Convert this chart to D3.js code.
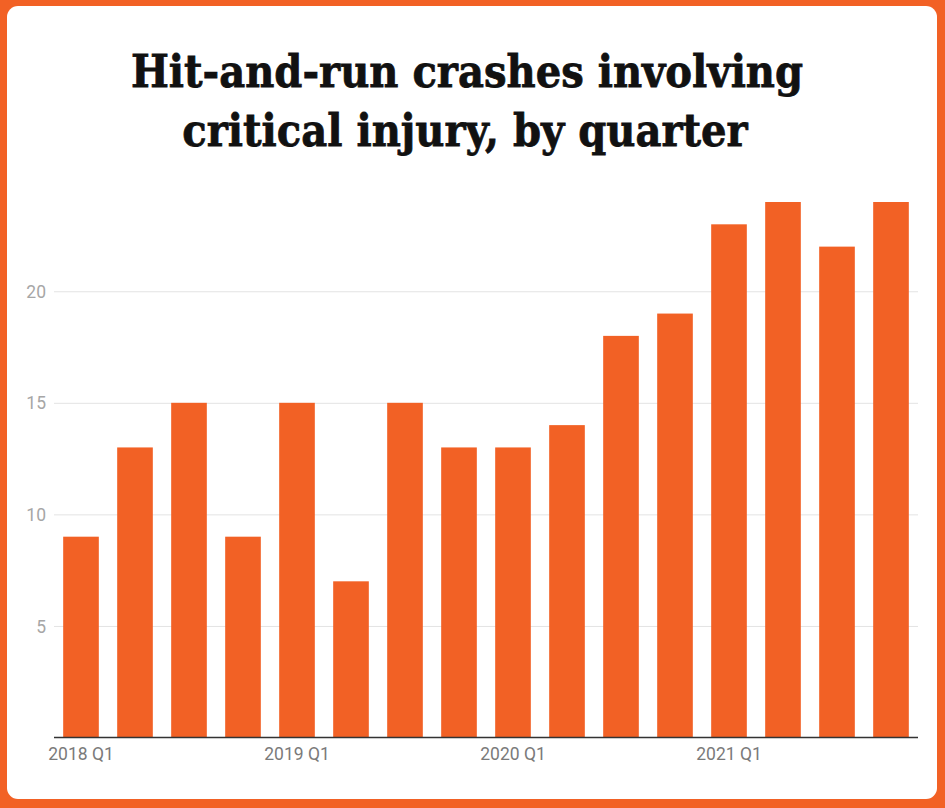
<!DOCTYPE html>
<html>
<head>
<meta charset="utf-8">
<script src="https://cdn.jsdelivr.net/npm/d3@7"></script>
<style>
  html, body { margin: 0; padding: 0; background: #f26125; }
  svg { display: block; }
</style>
</head>
<body>
<svg id="chart" width="945" height="808"></svg>
<script>
const titleLines = ["Hit-and-run crashes involving", "critical injury, by quarter"];
const quarters = ["2018 Q1","2018 Q2","2018 Q3","2018 Q4","2019 Q1","2019 Q2","2019 Q3","2019 Q4",
                  "2020 Q1","2020 Q2","2020 Q3","2020 Q4","2021 Q1","2021 Q2","2021 Q3","2021 Q4"];
const crashes = [9, 13, 15, 9, 15, 7, 15, 13, 13, 14, 18, 19, 23, 24, 22, 24];
const yTicks = [5, 10, 15, 20];
const xTickLabels = ["2018 Q1", "2019 Q1", "2020 Q1", "2021 Q1"];

const orange = "#f26125";
const svg = d3.select("#chart");

svg.append("rect").attr("x", 0).attr("y", 0).attr("width", 945).attr("height", 808).attr("fill", orange);
svg.append("rect").attr("x", 7).attr("y", 6).attr("width", 930).attr("height", 793)
  .attr("rx", 11).attr("ry", 11).attr("fill", "#ffffff");

// Title
const titleFont = "'DejaVu Serif', serif";
const baselines = [87, 146];
const targetW = [672, 557];
const centers = [467, 465];
let fs = 40;
titleLines.forEach((line, i) => {
  const g = svg.append("g").attr("transform", `translate(${centers[i]},${baselines[i]}) scale(1,1.13)`);
  const t = g.append("text").text(line).attr("x", 0).attr("y", 0)
    .attr("text-anchor", "middle").attr("font-family", titleFont).attr("font-weight", 700)
    .attr("font-size", 40).attr("fill", "#111").attr("stroke", "#111").attr("stroke-width", 0.7);
  if (i === 0) fs = 40 * targetW[0] / t.node().getComputedTextLength();
  t.attr("font-size", fs);
});

// Scales
const x = d3.scaleBand().domain(quarters).range([54, 918]).paddingInner(0.34).paddingOuter(0.17);
const y = d3.scaleLinear().domain([0, 24]).range([737.5, 202]);

// Gridlines
const grid = svg.append("g").attr("transform", "translate(54,0)")
  .call(d3.axisLeft(y).tickValues(yTicks).tickSize(-864).tickFormat(""));
grid.select(".domain").remove();
grid.selectAll(".tick line").attr("stroke", "#e3e3e3").attr("stroke-width", 1);

// Y labels
const yAxis = svg.append("g").attr("transform", "translate(46,0)")
  .call(d3.axisLeft(y).tickValues(yTicks).tickSize(0).tickPadding(0));
yAxis.select(".domain").remove();
yAxis.selectAll(".tick text").attr("font-family", "Roboto, sans-serif").attr("font-size", 17.5)
  .attr("fill", "#a6a6a6").attr("dy", "0.35em");

// Bars
svg.append("g").selectAll("rect").data(crashes).join("rect")
  .attr("x", (d, i) => x(quarters[i]))
  .attr("width", x.bandwidth())
  .attr("y", d => y(d))
  .attr("height", d => y(0) - y(d))
  .attr("fill", orange);

// X axis
const xAxis = svg.append("g").attr("transform", `translate(0,${y(0)})`)
  .call(d3.axisBottom(x).tickValues(xTickLabels).tickSize(0).tickPadding(10));
xAxis.select(".domain").attr("stroke", "#333").attr("stroke-width", 1.3)
  .attr("d", "M54,0H918");
xAxis.selectAll(".tick text").attr("font-family", "Roboto, sans-serif").attr("font-size", 17.5)
  .attr("fill", "#7a7a7a").attr("dy", "0.71em");
</script>
</body>
</html>
